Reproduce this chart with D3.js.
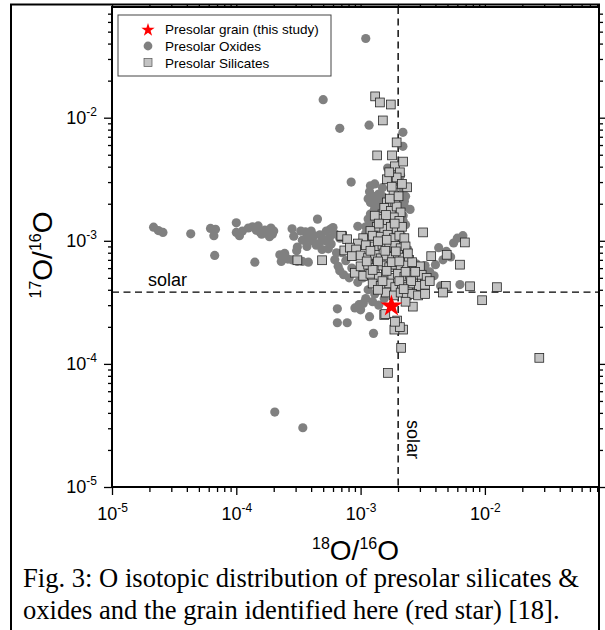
<!DOCTYPE html>
<html>
<head>
<meta charset="utf-8">
<script src="https://cdn.jsdelivr.net/npm/d3@7"></script>
<style>
body { margin: 0; background: #fff; }
svg { display: block; }
</style>
</head>
<body>
<div id="chart"></div>
<script>
// 18O/16O, 17O/16O pairs
let oxides = [
  [1.1e-3, 4.4e-2], [5.0e-4, 1.4e-2], [6.8e-4, 8.2e-3], [1.17e-3, 8.7e-3], [2.19e-3, 7.6e-3],
  [2.19e-3, 5.85e-3], [8.4e-4, 3.0e-3], [2.5e-3, 1.8e-3], [1.65e-3, 3.9e-3], [2.1e-3, 3.4e-3],
  [1.2e-3, 2.8e-3], [1.26e-3, 2.3e-3], [1.2e-3, 2.05e-3], [1.3e-3, 2.9e-3], [1.15e-3, 2.2e-3],
  [1.3e-3, 1.85e-3], [1.2e-3, 1.65e-3], [1.35e-3, 1.55e-3], [1.25e-3, 1.4e-3], [1.1e-3, 1.3e-3],
  [9.5e-4, 1.31e-3], [1.4e-3, 2.4e-3], [1.5e-3, 2.7e-3], [1.45e-3, 2.0e-3], [1.55e-3, 1.7e-3],
  [2.2e-3, 2.6e-3], [2.3e-3, 2.3e-3], [2.25e-3, 1.9e-3], [2.2e-3, 1.6e-3], [2.3e-3, 1.35e-3],
  [2.15e-3, 1.1e-3], [2.4e-3, 8.5e-4], [2.0e-3, 3.0e-3], [1.8e-3, 3.4e-3], [5.7e-4, 1.24e-3],
  [1.18e-3, 2.5e-3], [1.35e-3, 2.15e-3], [1.28e-3, 1.75e-3], [1.15e-3, 1.5e-3], [1.4e-3, 1.8e-3],
  [1.22e-3, 1.28e-3], [1.5e-3, 2.3e-3], [2.25e-3, 2.1e-3], [2.2e-3, 1.45e-3], [1.1e-3, 1.15e-3],
  [2.16e-5, 1.29e-3], [2.36e-5, 1.21e-3], [2.57e-5, 1.17e-3], [4.3e-5, 1.14e-3], [6.2e-5, 1.26e-3],
  [6.8e-5, 1.24e-3], [6.6e-5, 1.1e-3], [6.7e-5, 7.6e-4], [1.0e-4, 1.4e-3], [1.0e-4, 1.17e-3],
  [1.06e-4, 1.1e-3], [1.12e-4, 1.2e-3], [1.25e-4, 1.27e-3], [1.35e-4, 1.3e-3], [1.45e-4, 1.22e-3],
  [1.5e-4, 1.32e-3], [1.6e-4, 1.13e-3], [1.7e-4, 1.22e-3], [1.8e-4, 1.16e-3], [1.9e-4, 1.27e-3],
  [2.0e-4, 1.2e-3], [1.85e-4, 1.08e-3], [1.41e-4, 6.7e-4], [2.24e-4, 7.7e-4], [2.4e-4, 7.5e-4],
  [2.3e-4, 6.8e-4], [2.6e-4, 7.1e-4], [2.8e-4, 7.0e-4], [3.1e-4, 6.8e-4], [3.4e-4, 6.8e-4],
  [2.81e-4, 1.25e-3], [3.3e-4, 1.2e-3], [3.4e-4, 1.01e-3], [3.9e-4, 1.12e-3], [4.5e-4, 1.5e-3],
  [4.7e-4, 1.12e-3], [5.3e-4, 1.2e-3], [5.6e-4, 1.05e-3], [6.2e-4, 1.14e-3], [6.8e-4, 1.05e-3],
  [5.0e-4, 1.03e-3], [4.6e-4, 9.5e-4], [4.1e-4, 1.0e-3], [3.7e-4, 1.05e-3], [3.1e-4, 8.9e-4],
  [3.7e-4, 9.0e-4], [4.4e-4, 9.2e-4], [4.9e-4, 8.5e-4], [5.5e-4, 8.6e-4], [6.2e-4, 7.0e-4],
  [6.6e-4, 6.2e-4], [6.8e-4, 5.7e-4], [7.1e-4, 8.0e-4], [7.6e-4, 6.9e-4], [7.3e-4, 5.3e-4],
  [8.1e-4, 5.0e-4], [8.5e-4, 6.0e-4], [9.0e-4, 7.5e-4], [2.9e-4, 1.09e-3], [3.06e-4, 8.3e-4],
  [3.8e-4, 6.7e-4], [2.45e-4, 7.9e-4], [3.6e-4, 1.18e-3], [4.2e-4, 1.1e-3], [4.0e-4, 1.2e-3],
  [5.2e-4, 1.0e-3], [5.8e-4, 9.4e-4], [6.4e-4, 8.0e-4], [6.0e-4, 1.28e-3], [1.55e-4, 1.18e-3],
  [1.95e-4, 1.13e-3], [6.5e-4, 2.8e-4], [6.5e-4, 2.16e-4], [7.8e-4, 2.16e-4], [1.27e-3, 1.77e-4],
  [1.18e-3, 2.42e-4], [9.7e-4, 3.03e-4], [9.0e-4, 2.85e-4], [1.0e-3, 2.75e-4], [1.05e-3, 3.1e-4],
  [1.1e-3, 3.4e-4], [1.25e-3, 3.2e-4], [1.4e-3, 3.0e-4], [1.55e-3, 3.4e-4], [1.15e-3, 4.0e-4],
  [1.3e-3, 3.7e-4], [9.5e-4, 4.6e-4], [1.05e-3, 5.0e-4], [9.2e-4, 5.6e-4], [2.04e-4, 4.06e-5],
  [3.43e-4, 3.03e-5], [4.25e-3, 8.8e-4], [4.9e-3, 8.2e-4], [5.6e-3, 9.6e-4], [6.0e-3, 1.05e-3],
  [6.65e-3, 1.1e-3], [6.3e-3, 4.41e-4], [4.6e-3, 7.0e-4], [4.0e-3, 6.4e-4], [3.6e-3, 5.6e-4],
  [3.9e-3, 5.2e-4], [5.3e-3, 7.4e-4], [3.3e-3, 6.3e-4], [2.6e-3, 5.0e-4], [2.8e-3, 6.5e-4],
  [3.0e-3, 4.5e-4], [2.7e-3, 3.9e-4], [3.2e-3, 5.5e-4], [4.4e-3, 4.3e-4]
]

let silicates = [
  [1.31e-3, 1.49e-2], [1.43e-3, 1.33e-2], [1.75e-3, 1.28e-2], [1.51e-3, 9.5e-3], [1.95e-3, 6.3e-3],
  [1.36e-3, 4.94e-3], [1.79e-3, 4.94e-3], [1.89e-3, 4.03e-3], [2.07e-3, 3.6e-3], [1.89e-3, 3.16e-3],
  [1.63e-3, 3.16e-3], [2.37e-3, 2.72e-3], [1.95e-3, 3.27e-3], [1.84e-3, 2.47e-3], [1.63e-3, 2.05e-3],
  [1.9e-3, 2.0e-3], [1.5e-3, 1.64e-3], [2.0e-3, 1.64e-3], [1.7e-3, 1.44e-3], [1.43e-3, 1.19e-3],
  [1.97e-3, 1.24e-3], [3.18e-3, 1.17e-3], [1.26e-3, 1.09e-3], [7.1e-4, 1.09e-3],
  [6.9e-3, 9.7e-4], [4.93e-3, 7.7e-4], [6.3e-3, 6.4e-4], [7.6e-3, 4.27e-4], [1.25e-2, 4.2e-4],
  [9.5e-3, 3.29e-4], [2.74e-2, 1.12e-4], [4.85e-3, 4.3e-4], [4.6e-3, 3.8e-4], [3.7e-3, 7.5e-4],
  [2.63e-3, 2.92e-4], [2.12e-3, 1.35e-4], [1.66e-3, 8.45e-5], [2.2e-3, 1.9e-4], [1.87e-3, 1.9e-4],
  [1.55e-3, 2.5e-4], [1.97e-3, 2.25e-4], [3.1e-4, 6.95e-4], [4.9e-4, 6.95e-4], [7.0e-4, 1.1e-3],
  [7.8e-4, 1.03e-3], [7.4e-4, 8.35e-4], [9.0e-4, 5.5e-4],
  [1.55e-3, 1.85e-3], [1.75e-3, 1.75e-3], [1.95e-3, 1.9e-3], [2.1e-3, 1.7e-3],
  [1.45e-3, 1.5e-3], [1.65e-3, 1.45e-3], [1.85e-3, 1.55e-3], [2.05e-3, 1.45e-3], [1.3e-3, 1.6e-3],
  [1.35e-3, 1.3e-3], [1.55e-3, 1.25e-3], [1.75e-3, 1.3e-3], [1.95e-3, 1.25e-3], [2.15e-3, 1.3e-3],
  [1.2e-3, 1.2e-3], [1.05e-3, 1.05e-3], [1.25e-3, 1.1e-3], [1.45e-3, 1.08e-3], [1.65e-3, 1.12e-3],
  [1.85e-3, 1.05e-3], [2.05e-3, 1.1e-3], [2.25e-3, 1.05e-3], [9.5e-4, 9.5e-4],
  [8.2e-4, 8.8e-4], [9.2e-4, 8.5e-4], [1.1e-3, 9.2e-4], [1.3e-3, 9.0e-4], [1.5e-3, 9.3e-4],
  [1.7e-3, 8.8e-4], [1.9e-3, 9.1e-4], [2.1e-3, 8.7e-4], [2.3e-3, 9.0e-4],
  [8.5e-4, 7.5e-4], [1.0e-3, 7.6e-4], [1.15e-3, 7.3e-4], [1.3e-3, 7.7e-4], [1.45e-3, 7.2e-4],
  [1.6e-3, 7.6e-4], [1.8e-3, 7.4e-4], [2.0e-3, 7.7e-4], [2.2e-3, 7.3e-4], [2.45e-3, 7.0e-4],
  [1.0e-3, 6.2e-4], [1.15e-3, 6.4e-4], [1.3e-3, 6.0e-4], [1.5e-3, 6.3e-4], [1.7e-3, 6.1e-4],
  [1.9e-3, 6.4e-4], [2.1e-3, 6.0e-4], [2.35e-3, 6.3e-4], [2.7e-3, 6.1e-4], [3.0e-3, 6.2e-4],
  [1.05e-3, 5.2e-4], [1.2e-3, 5.4e-4], [1.4e-3, 5.1e-4], [1.6e-3, 5.3e-4], [1.8e-3, 5.0e-4],
  [2.0e-3, 5.4e-4], [2.25e-3, 5.1e-4], [2.5e-3, 5.3e-4], [2.8e-3, 5.0e-4], [3.1e-3, 5.3e-4],
  [3.4e-3, 5.0e-4], [1.25e-3, 4.5e-4], [1.45e-3, 4.3e-4], [1.7e-3, 4.5e-4], [1.9e-3, 4.2e-4],
  [2.15e-3, 4.4e-4], [2.4e-3, 4.2e-4], [2.65e-3, 4.5e-4], [2.95e-3, 4.3e-4], [3.3e-3, 4.4e-4],
  [1.6e-3, 3.8e-4], [1.85e-3, 3.6e-4], [2.1e-3, 3.8e-4], [2.35e-3, 3.6e-4], [2.6e-3, 3.7e-4],
  [2.9e-3, 3.6e-4], [3.3e-3, 3.7e-4], [2.3e-3, 3.2e-4], [1.58e-3, 2.54e-4], [2.07e-3, 1.99e-4],
  [1.89e-3, 2.2e-4],
  [1.72e-3, 2.2e-3], [2.02e-3, 2.3e-3], [1.78e-3, 2.75e-3], [2.15e-3, 2.9e-3], [1.7e-3, 3.6e-3],
  [2.2e-3, 4.4e-3], [1.6e-3, 1.62e-3], [1.88e-3, 1.38e-3], [1.4e-3, 1.38e-3], [1.62e-3, 1.02e-3],
  [1.38e-3, 9.9e-4], [1.92e-3, 8.2e-4], [1.2e-3, 8.3e-4], [1.58e-3, 8.3e-4], [1.38e-3, 6.8e-4],
  [1.78e-3, 6.7e-4], [2.05e-3, 6.8e-4], [1.25e-3, 5.8e-4], [1.62e-3, 5.7e-4], [2.3e-3, 5.6e-4],
  [1.5e-3, 4.7e-4], [2.05e-3, 4.7e-4], [2.55e-3, 4.7e-4], [1.38e-3, 4.0e-4], [2.22e-3, 4.05e-4],
  [3.6e-3, 4.7e-4], [2.75e-3, 5.6e-4], [1.12e-3, 6.8e-4], [2.6e-3, 6.7e-4], [2.4e-3, 7.9e-4]
]

let grain = [[1.77e-3, 3.0e-4]]
let solar = [2.005e-3, 3.83e-4]   // 18O/16O, 17O/16O
let decades = [1e-5, 1e-4, 1e-3, 1e-2]
let legendLabels = ['Presolar grain (this study)', 'Presolar Oxides', 'Presolar Silicates']
let caption = [
  'Fig. 3: O isotopic distribution of presolar silicates &',
  'oxides and the grain identified here (red star) [18].'
]

let W = 605, H = 630
let L = 112, R = 599, T = 7, B = 487

let svg = d3.select('#chart').append('svg')
  .attr('width', W).attr('height', H)
  .style('font-family', '"Liberation Sans", Arial, sans-serif')

let x = d3.scaleLog().domain([1e-5, 0.0828]).range([L, R])
let y = d3.scaleLog().domain([1e-5, 0.0793]).range([B, T])

let minorX = x.ticks().filter(d => !decades.some(v => Math.abs(v - d) / v < 1e-6))
let minorY = y.ticks().filter(d => !decades.some(v => Math.abs(v - d) / v < 1e-6))

// outer figure border
svg.append('rect')
  .attr('x', 11).attr('y', 4.5).attr('width', R - 11).attr('height', H + 20)
  .attr('fill', 'none').attr('stroke', '#000').attr('stroke-width', 2)

// solar dashed lines (behind symbols)
svg.append('line')
  .attr('x1', L).attr('x2', R).attr('y1', y(solar[1])).attr('y2', y(solar[1]))
  .attr('stroke', '#000').attr('stroke-width', 1.4).attr('stroke-dasharray', '7,4.5')
svg.append('line')
  .attr('x1', x(solar[0])).attr('x2', x(solar[0])).attr('y1', T).attr('y2', B)
  .attr('stroke', '#000').attr('stroke-width', 1.4).attr('stroke-dasharray', '7,4.5')

svg.append('text').attr('x', 148).attr('y', 286)
  .style('font-size', '18px').text('solar')
svg.append('text')
  .attr('transform', `translate(${x(solar[0]) + 9},420) rotate(90)`)
  .style('font-size', '18px').text('solar')

// oxides
svg.append('g').selectAll('circle')
  .data(oxides)
  .enter()
  .append('circle')
  .attr('cx', d => x(d[0]))
  .attr('cy', d => y(d[1]))
  .attr('r', 4.6)
  .style('fill', '#808080')

// silicates
let sq = 8.8
svg.append('g').selectAll('rect')
  .data(silicates)
  .enter()
  .append('rect')
  .attr('x', d => x(d[0]) - sq / 2)
  .attr('y', d => y(d[1]) - sq / 2)
  .attr('width', sq).attr('height', sq)
  .style('fill', '#c3c3c3')
  .style('stroke', '#262626')
  .style('stroke-width', 0.8)

// this grain
svg.append('g').selectAll('path')
  .data(grain)
  .enter()
  .append('path')
  .attr('d', d3.symbol(d3.symbolStar, 150))
  .attr('transform', d => `translate(${x(d[0])},${y(d[1]) + 1})`)
  .style('fill', '#ff0000')

// axes
function supLabel(sel, anchor) {
  sel.selectAll('.tick text').each(function(d) {
    let t = d3.select(this).text(null).attr('text-anchor', anchor)
    t.append('tspan').text('10')
    t.append('tspan').attr('dy', -8).style('font-size', '12px').text(Math.round(Math.log10(d)))
  })
}

let gx = svg.append('g').attr('transform', `translate(0,${B})`)
  .call(d3.axisBottom(x).tickValues(decades).tickSize(8).tickPadding(12).tickFormat(d => d))
gx.call(supLabel, 'middle')
svg.append('g').attr('transform', `translate(0,${B})`)
  .call(d3.axisBottom(x).tickValues(minorX).tickSize(5).tickFormat(''))

let gy = svg.append('g').attr('transform', `translate(${L},0)`)
  .call(d3.axisLeft(y).tickValues(decades).tickSize(8).tickPadding(7).tickFormat(d => d))
gy.call(supLabel, 'end')
svg.append('g').attr('transform', `translate(${L},0)`)
  .call(d3.axisLeft(y).tickValues(minorY).tickSize(4).tickFormat(''))

svg.append('g').attr('transform', `translate(0,${T})`)
  .call(d3.axisTop(x).tickValues(decades).tickSize(3).tickFormat(''))
svg.append('g').attr('transform', `translate(0,${T})`)
  .call(d3.axisTop(x).tickValues(minorX).tickSize(3).tickFormat(''))
svg.append('g').attr('transform', `translate(${R},0)`)
  .call(d3.axisRight(y).tickValues(decades).tickSize(6).tickFormat(''))
svg.append('g').attr('transform', `translate(${R},0)`)
  .call(d3.axisRight(y).tickValues(minorY).tickSize(4).tickFormat(''))

svg.selectAll('.domain').remove()
svg.selectAll('.tick line').attr('stroke-width', 1.3)
svg.selectAll('.tick text').style('font-size', '18px').style('font-family', '"Liberation Sans", Arial, sans-serif').attr('fill', '#000')

// plot frame
svg.append('rect')
  .attr('x', L).attr('y', T).attr('width', R - L).attr('height', B - T)
  .attr('fill', 'none').attr('stroke', '#000').attr('stroke-width', 2)

// axis titles
let xt = svg.append('text').attr('x', (L + R) / 2).attr('y', 560)
  .attr('text-anchor', 'middle').style('font-size', '28px')
xt.append('tspan').attr('dy', -11).style('font-size', '16px').text('18')
xt.append('tspan').attr('dy', 11).text('O/')
xt.append('tspan').attr('dy', -11).style('font-size', '16px').text('16')
xt.append('tspan').attr('dy', 11).text('O')

let yt = svg.append('text').attr('transform', 'translate(52,255) rotate(-90)')
  .attr('text-anchor', 'middle').style('font-size', '28px')
yt.append('tspan').attr('dy', -11).style('font-size', '16px').text('17')
yt.append('tspan').attr('dy', 11).text('O/')
yt.append('tspan').attr('dy', -11).style('font-size', '16px').text('16')
yt.append('tspan').attr('dy', 11).text('O')

// legend
let lg = svg.append('g')
lg.append('rect').attr('x', 118).attr('y', 15).attr('width', 213).attr('height', 61)
  .attr('fill', '#fff').attr('stroke', '#444').attr('stroke-width', 1)
let rows = [29, 46, 62.5]
lg.append('path').attr('d', d3.symbol(d3.symbolStar, 55))
  .attr('transform', `translate(148,${rows[0] + 1})`).style('fill', '#ff0000')
lg.append('circle').attr('cx', 148).attr('cy', rows[1]).attr('r', 4.4).style('fill', '#808080')
lg.append('rect').attr('x', 148 - 4).attr('y', rows[2] - 4).attr('width', 8).attr('height', 8)
  .style('fill', '#c3c3c3').style('stroke', '#555').style('stroke-width', 0.7)
lg.selectAll('text.lab')
  .data(legendLabels)
  .enter()
  .append('text')
  .attr('class', 'lab')
  .attr('x', 165)
  .attr('y', (d, i) => rows[i] + 5)
  .style('font-size', '13.5px')
  .text(d => d)

// caption, fitted to the width of the first line
let cap = svg.append('g').style('font-family', '"Liberation Serif", "Times New Roman", serif')
let capLines = cap.selectAll('text')
  .data(caption)
  .enter()
  .append('text')
  .attr('x', 23)
  .attr('y', (d, i) => 587 + i * 32)
  .style('font-size', '23px')
  .text(d => d)
let w0 = capLines.node().getComputedTextLength()
capLines.style('font-size', (23 * 556 / w0).toFixed(2) + 'px')
</script>
</body>
</html>
